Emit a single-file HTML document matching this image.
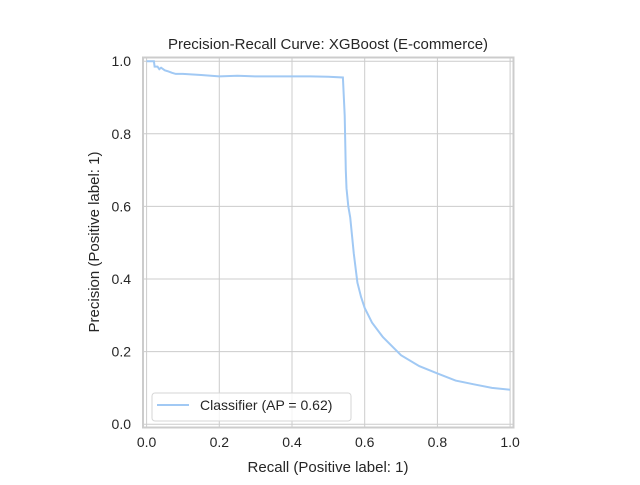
<!DOCTYPE html>
<html><head><meta charset="utf-8"><style>
body{margin:0;background:#fff;}
svg{font-family:"Liberation Sans","DejaVu Sans",sans-serif;}
</style></head><body>
<svg width="640" height="480" viewBox="0 0 640 480">
<rect x="0" y="0" width="640" height="480" fill="#fff"/>
<g id="grid"></g>
<g id="ticks"></g>
<path id="curve" fill="none" stroke="#a1c9f4" stroke-width="2"/>
<rect x="143" y="57.5" width="370.5" height="370" fill="none" stroke="#cccccc" stroke-width="2"/>
<text x="328" y="49" text-anchor="middle" font-size="15" fill="#262626">Precision-Recall Curve: XGBoost (E-commerce)</text>
<text x="328" y="472" text-anchor="middle" font-size="15" fill="#262626">Recall (Positive label: 1)</text>
<text transform="translate(99,242) rotate(-90)" text-anchor="middle" font-size="15" fill="#262626">Precision (Positive label: 1)</text>
<g>
<rect x="152" y="393" width="199" height="28" rx="3" fill="#fff" fill-opacity="0.8" stroke="#d6d6d6"/>
<line x1="157" y1="405" x2="189" y2="405" stroke="#a1c9f4" stroke-width="2"/>
<text x="200" y="410" font-size="14" fill="#262626">Classifier (AP = 0.62)</text>
</g>
</svg>
<script>
const recall=[0,0.02,0.022,0.03,0.035,0.04,0.05,0.06,0.07,0.08,0.1,0.15,0.2,0.25,0.3,0.35,0.4,0.45,0.5,0.54,0.545,0.548,0.55,0.555,0.56,0.565,0.57,0.575,0.58,0.59,0.6,0.62,0.65,0.7,0.75,0.8,0.85,0.9,0.95,1.0];
const precision=[1,1,0.985,0.985,0.978,0.982,0.975,0.972,0.968,0.965,0.965,0.962,0.958,0.96,0.958,0.958,0.958,0.958,0.957,0.955,0.85,0.7,0.65,0.6,0.57,0.52,0.47,0.43,0.39,0.35,0.32,0.28,0.24,0.19,0.16,0.14,0.12,0.11,0.10,0.095];
const xTicks=[0,0.2,0.4,0.6,0.8,1.0];
const yTicks=[0,0.2,0.4,0.6,0.8,1.0];
const X=v=>146.6+v*363.5, Y=v=>424.2-v*363;
const ns="http://www.w3.org/2000/svg";
const grid=document.getElementById('grid'), ticks=document.getElementById('ticks');
xTicks.forEach(t=>{
 const l=document.createElementNS(ns,'line');
 l.setAttribute('x1',X(t));l.setAttribute('x2',X(t));l.setAttribute('y1',57.5);l.setAttribute('y2',427.5);
 l.setAttribute('stroke','#cccccc');
 
 
 grid.appendChild(l);
 const tx=document.createElementNS(ns,'text');
 tx.setAttribute('x',X(t));tx.setAttribute('y',447);tx.setAttribute('text-anchor','middle');
 tx.setAttribute('font-size','14');tx.setAttribute('fill','#262626');tx.textContent=t.toFixed(1);
 
 
 ticks.appendChild(tx);
});
yTicks.forEach(t=>{
 const l=document.createElementNS(ns,'line');
 l.setAttribute('y1',Y(t));l.setAttribute('y2',Y(t));l.setAttribute('x1',143);l.setAttribute('x2',513.5);
 l.setAttribute('stroke','#cccccc');
 
 
 grid.appendChild(l);
 const tx=document.createElementNS(ns,'text');
 tx.setAttribute('x',131);tx.setAttribute('y',Y(t)+5);tx.setAttribute('text-anchor','end');
 tx.setAttribute('font-size','14');tx.setAttribute('fill','#262626');tx.textContent=t.toFixed(1);
 
 
 ticks.appendChild(tx);
});
document.getElementById('curve').setAttribute('d',recall.map((r,i)=>(i?'L':'M')+X(r).toFixed(1)+' '+Y(precision[i]).toFixed(1)).join(' '));
</script>
</body></html>
